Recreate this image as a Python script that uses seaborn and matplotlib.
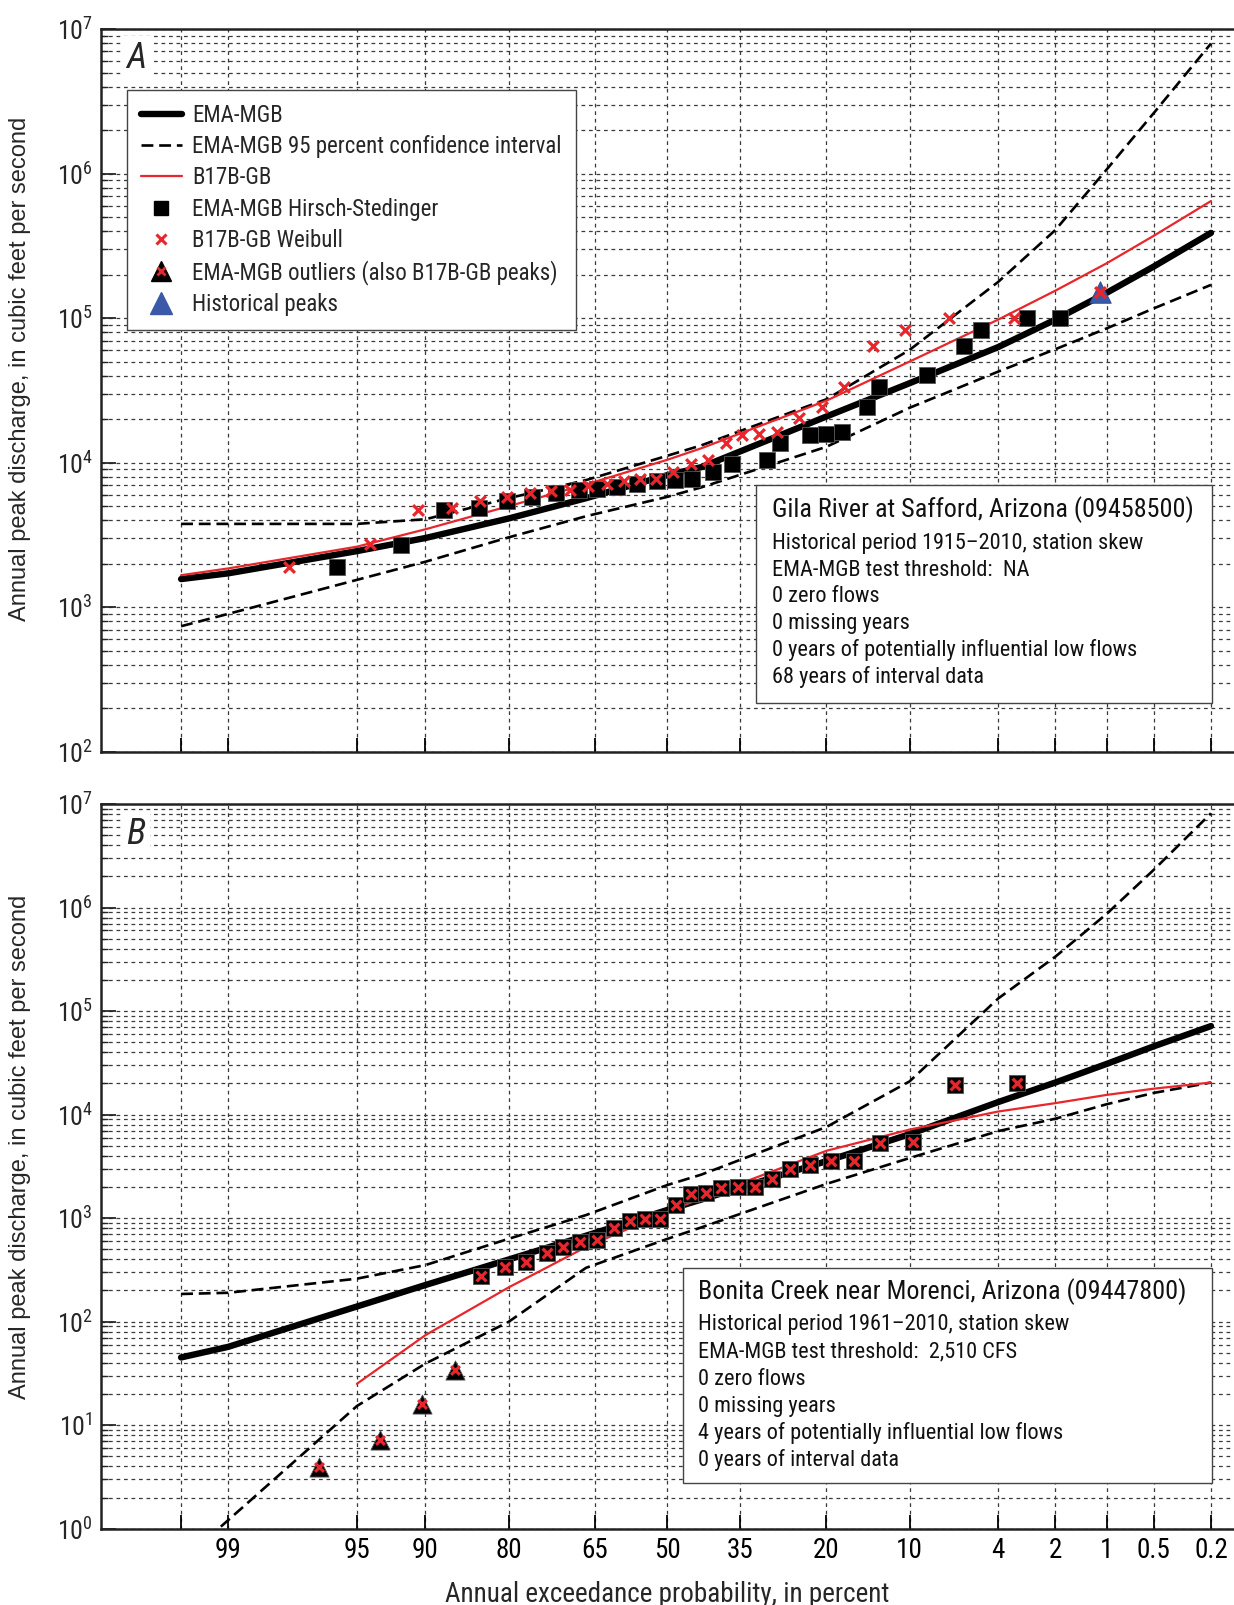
import numpy as np
import matplotlib
matplotlib.use("Agg")
import matplotlib.pyplot as plt
import seaborn as sns
from matplotlib import font_manager as fm
from matplotlib.lines import Line2D
from matplotlib.patches import Rectangle
from matplotlib.ticker import FixedLocator, FixedFormatter, LogLocator, NullFormatter, NullLocator
from matplotlib.legend_handler import HandlerTuple
from statistics import NormalDist

# ---------------- data ----------------
curve_prob = [99.5, 99, 95, 90, 80, 66.7, 50, 42.9, 20, 10, 4, 2, 1, 0.5, 0.2]

# Panel A: Gila River at Safford
a_ema = [1570, 1720, 2450, 3020, 4120, 5690, 8220, 9330, 20900, 35500, 63100, 97700, 150000, 228000, 389000]
a_b17 = [1670, 1860, 2630, 3470, 5010, 7080, 10500, 12600, 26900, 50100, 97700, 155000, 240000, 372000, 646000]
a_upper = [3780, 3780, 3780, 4070, 5690, 7590, 11200, 13200, 27500, 60300, 178000, 407000, 1070000, 2630000, 7940000]
a_lower = [741, 902, 1550, 2070, 3050, 4270, 5820, 6760, 12900, 24000, 42700, 61000, 85100, 117000, 170000]

a_hs_prob = [96.0, 92.1, 88.2, 84.1, 80.2, 76.3, 72.3, 68.1, 64.5, 60.5, 56.4, 52.3, 48.4, 44.8,
             40.4, 36.6, 30.0, 27.6, 22.45, 20.1, 17.75, 14.5, 13.16, 8.46, 5.8, 4.83, 2.85, 1.89]
a_hs_q = [1900, 2700, 4710, 4890, 5440, 5830, 6150, 6490, 6560, 6840, 7130, 7480, 7600, 7770,
          8600, 9770, 10500, 13800, 15600, 15800, 16300, 24400, 33300, 40500, 64600, 83000, 100000, 100000]

a_wb_prob = [97.76, 94.22, 90.7, 87.3, 83.9, 80.2, 76.6, 73.2, 69.7, 66.3, 62.5, 59.1, 55.7, 52.5, 48.8,
             45.0, 41.6, 37.9, 34.6, 31.45, 28.07, 24.35, 20.64, 17.54, 13.8, 10.39, 6.82, 3.34, 1.1]
a_wb_q = [1890, 2730, 4710, 4890, 5440, 5830, 6150, 6410, 6490, 6920, 7130, 7480, 7690, 7770, 8600,
          9770, 10500, 13800, 15600, 15800, 16300, 20500, 24400, 33300, 64600, 83000, 100000, 100000, 152000]

a_hist_prob = [1.1]
a_hist_q = [152000]

# Panel B: Bonita Creek near Morenci
b_ema = [45.1, 57.1, 140, 226, 398, 676, 1200, 1510, 3550, 6460, 13200, 20400, 30900, 45700, 71600]
b_b17_prob = [95, 90, 80, 66.7, 50, 42.9, 20, 10, 4, 2, 1, 0.5, 0.2]
b_b17 = [25.1, 74.1, 214, 525, 1150, 1550, 4470, 7160, 10700, 12900, 15500, 17800, 20400]
b_upper = [185, 190, 260, 352, 631, 1070, 2090, 2630, 7590, 20900, 132000, 335000, 871000, 2320000, 8130000]
b_lower = [0.48, 1.21, 15.3, 39.4, 99.5, 331, 631, 813, 2140, 3800, 6920, 9120, 12600, 16200, 20400]

b_pk_prob = [83.77, 80.56, 77.37, 73.9, 71.05, 67.76, 64.5, 61.1, 57.85, 54.8, 51.5, 48.2, 45.0,
             41.96, 38.8, 35.4, 32.14, 29.0, 25.9, 22.57, 19.37, 16.18, 12.97, 9.7, 6.4, 3.2]
b_pk_q = [275, 339, 373, 456, 528, 582, 613, 794, 942, 985, 977, 1345, 1707,
          1757, 1937, 2006, 1982, 2384, 2953, 3250, 3580, 3580, 5270, 5380, 19300, 20000]

b_out_prob = [96.75, 93.59, 90.3, 87.03]
b_out_q = [3.95, 7.2, 16, 34]

xtick_vals = [99.5, 99, 95, 90, 80, 65, 50, 35, 20, 10, 4, 2, 1, 0.5, 0.2]
xtick_labels = ["", "99", "95", "90", "80", "65", "50", "35", "20", "10", "4", "2", "1", "0.5", "0.2"]

legend_labels = ["EMA-MGB", "EMA-MGB 95 percent confidence interval", "B17B-GB",
                 "EMA-MGB Hirsch-Stedinger", "B17B-GB Weibull",
                 "EMA-MGB outliers (also B17B-GB peaks)", "Historical peaks"]

box_a = ["Gila River at Safford, Arizona (09458500)",
         "Historical period 1915\u20132010, station skew",
         "EMA-MGB test threshold:  NA",
         "0 zero flows",
         "0 missing years",
         "0 years of potentially influential low flows",
         "68 years of interval data"]
box_b = ["Bonita Creek near Morenci, Arizona (09447800)",
         "Historical period 1961\u20132010, station skew",
         "EMA-MGB test threshold:  2,510 CFS",
         "0 zero flows",
         "0 missing years",
         "4 years of potentially influential low flows",
         "0 years of interval data"]

# ---------------- style ----------------
sns.set_theme(style="white")
fonts = fm.fontManager.ttflist
names = {f.name for f in fonts}
cond_family, cond_stretch = None, "normal"
for p in ["Liberation Sans Narrow", "Roboto Condensed", "Noto Sans Condensed",
          "Open Sans Condensed", "DejaVu Sans Condensed"]:
    if p in names:
        cond_family, cond_stretch = p, "condensed"
        break
if cond_family is None:
    for fam in ["Noto Sans", "Open Sans", "Roboto", "DejaVu Sans"]:
        if any(f.name == fam and str(f.stretch) in ("condensed", "semi-condensed", "extra-condensed")
               for f in fonts):
            cond_family, cond_stretch = fam, "condensed"
            break
if cond_family is None:
    cond_family = "Roboto"

plt.rcParams["font.family"] = [cond_family, "DejaVu Sans"]
plt.rcParams["font.stretch"] = cond_stretch
plt.rcParams["mathtext.default"] = "regular"
plt.rcParams["axes.unicode_minus"] = False

RED = "#e8262b"
BLUE = "#3b59a8"
GRIDC = "#3a3a3a"
DASH = (0, (4.5, 2.2))

_nd = NormalDist()
_ppf = np.vectorize(_nd.inv_cdf, otypes=[float])
_cdf = np.vectorize(_nd.cdf, otypes=[float])


def fwd(p):
    p = np.clip(np.asarray(p, dtype=float), 1e-7, 100 - 1e-7)
    return _ppf(p / 100.0)


def inv(z):
    return _cdf(np.asarray(z, dtype=float)) * 100.0


W, H = 1234, 1605
fig = plt.figure(figsize=(W / 100, H / 100), dpi=100)
axA = fig.add_axes([101 / W, 1 - 752 / H, 1133 / W, 723 / H])
axB = fig.add_axes([101 / W, 1 - 1528.7 / H, 1133 / W, 724.7 / H])


def setup(ax, ylo, show_xlabels):
    ax.set_xscale("function", functions=(fwd, inv))
    ax.set_yscale("log")
    ax.set_xlim(99.865, 0.135)
    ax.set_ylim(ylo, 1e7)
    ax.xaxis.set_major_locator(FixedLocator(xtick_vals))
    ax.xaxis.set_minor_locator(NullLocator())
    if show_xlabels:
        ax.xaxis.set_major_formatter(FixedFormatter(xtick_labels))
    else:
        ax.xaxis.set_major_formatter(FixedFormatter([""] * len(xtick_vals)))
    dec = list(range(int(np.log10(ylo)), 8))
    ax.yaxis.set_major_locator(FixedLocator([10.0 ** d for d in dec]))
    ax.yaxis.set_major_formatter(FixedFormatter([r"$\mathregular{10^{%d}}$" % d for d in dec]))
    ax.yaxis.set_minor_locator(LogLocator(base=10, subs=np.arange(2, 10), numticks=20))
    ax.yaxis.set_minor_formatter(NullFormatter())
    ax.tick_params(axis="x", which="major", direction="in", length=10, width=1.3,
                   bottom=True, top=False, labelsize=19.5, pad=6, colors="black")
    ax.tick_params(axis="y", which="major", direction="in", length=11, width=1.3,
                   left=True, right=False, labelsize=18.5, pad=6)
    ax.tick_params(axis="y", which="minor", direction="in", length=5, width=1.0,
                   left=True, right=False)
    ax.grid(True, which="major", axis="x", color=GRIDC, lw=0.9, ls=(0, (3, 3)))
    ax.grid(True, which="both", axis="y", color=GRIDC, lw=0.9, ls=(0, (3, 3)))
    ax.set_axisbelow(True)
    for s in ["left", "bottom", "top"]:
        ax.spines[s].set_visible(True)
        ax.spines[s].set_color("#222222")
        ax.spines[s].set_linewidth(1.8)
    ax.spines["right"].set_visible(False)
    ax.set_facecolor("white")


setup(axA, 1e2, False)
setup(axB, 1e0, True)


def curves(ax, ema, b17_p, b17, up, lo):
    sns.lineplot(x=curve_prob, y=up, ax=ax, color="black", lw=1.9, linestyle=DASH,
                 sort=False, estimator=None, legend=False, zorder=3)
    sns.lineplot(x=curve_prob, y=lo, ax=ax, color="black", lw=1.9, linestyle=DASH,
                 sort=False, estimator=None, legend=False, zorder=3)
    sns.lineplot(x=curve_prob, y=ema, ax=ax, color="black", lw=4.6,
                 sort=False, estimator=None, legend=False, zorder=3)
    sns.lineplot(x=b17_p, y=b17, ax=ax, color=RED, lw=1.6,
                 sort=False, estimator=None, legend=False, zorder=3)


curves(axA, a_ema, curve_prob, a_b17, a_upper, a_lower)
curves(axB, b_ema, b_b17_prob, b_b17, b_upper, b_lower)

# Panel A points
sns.scatterplot(x=a_hs_prob, y=a_hs_q, ax=axA, marker="s", s=125, color="black",
                edgecolor="#555555", linewidth=0.6, zorder=4, legend=False)
sns.scatterplot(x=a_hist_prob, y=a_hist_q, ax=axA, marker="^", s=240, color=BLUE,
                edgecolor="#2c4585", linewidth=0.6, zorder=5, legend=False)
sns.scatterplot(x=a_wb_prob, y=a_wb_q, ax=axA, marker="x", s=60, color=RED,
                linewidth=2.3, zorder=6, legend=False)

# Panel B points
sns.scatterplot(x=b_pk_prob, y=b_pk_q, ax=axB, marker="s", s=125, color="black",
                edgecolor="#555555", linewidth=0.6, zorder=4, legend=False)
sns.scatterplot(x=b_pk_prob, y=b_pk_q, ax=axB, marker="x", s=50, color=RED,
                linewidth=2.3, zorder=6, legend=False)
sns.scatterplot(x=b_out_prob, y=b_out_q, ax=axB, marker="^", s=190, color="black",
                edgecolor="#555555", linewidth=0.6, zorder=4, legend=False)
sns.scatterplot(x=b_out_prob, y=b_out_q, ax=axB, marker="x", s=40, color=RED,
                linewidth=2.2, zorder=6, legend=False)

for ax in (axA, axB):
    ax.set_xlim(99.865, 0.135)
axA.set_ylim(1e2, 1e7)
axB.set_ylim(1e0, 1e7)

# Legend
handles = [
    Line2D([], [], color="black", lw=4.6),
    Line2D([], [], color="black", lw=1.9, ls=DASH),
    Line2D([], [], color=RED, lw=1.6),
    Line2D([], [], color="black", marker="s", ls="none", ms=10.5),
    Line2D([], [], color=RED, marker="x", ls="none", ms=7, mew=2.2),
    (Line2D([], [], color="black", marker="^", ls="none", ms=14),
     Line2D([], [], color=RED, marker="x", ls="none", ms=6, mew=2.0)),
    Line2D([], [], color=BLUE, marker="^", ls="none", ms=16),
]
leg = axA.legend(handles, legend_labels, loc="upper left", bbox_to_anchor=(0.023, 0.9156),
                 borderaxespad=0, frameon=True, fancybox=False, framealpha=1,
                 edgecolor="#444444", fontsize=16.5, handlelength=1.8, handletextpad=0.45,
                 labelspacing=0.36, borderpad=0.6,
                 handler_map={tuple: HandlerTuple(ndivide=1)})
leg.get_frame().set_linewidth(1.0)
leg.set_zorder(10)


def info_box(ax, rect, text_x, ys, lines):
    x0, y0, x1, y1 = rect
    ax.add_patch(Rectangle((x0, y0), x1 - x0, y1 - y0, transform=ax.transAxes,
                           facecolor="white", edgecolor="#444444", lw=1.0, zorder=8))
    for i, (yy, t) in enumerate(zip(ys, lines)):
        ax.text(text_x, yy, t, transform=ax.transAxes, fontsize=18.8 if i == 0 else 16,
                va="center", ha="left", zorder=9, color="#111111")


info_box(axA, (0.578, 0.0674, 0.981, 0.3693), 0.592,
         [0.3347, 0.2886, 0.2517, 0.2148, 0.1780, 0.1411, 0.1042], box_a)
info_box(axB, (0.5137, 0.0631, 0.981, 0.3597), 0.5272,
         [0.327, 0.2811, 0.2442, 0.2052, 0.1684, 0.132, 0.0948], box_b)

# Panel letters
for ax, letter, yy in ((axA, "A", 0.96), (axB, "B", 0.9586)):
    ax.text(0.031, yy, letter, transform=ax.transAxes, fontsize=26, style="italic",
            va="center", ha="center", zorder=9,
            bbox=dict(facecolor="white", edgecolor="none", pad=3))

# Axis labels
for ax, ly in ((axA, 0.53), (axB, 0.527)):
    ax.set_ylabel("Annual peak discharge, in cubic feet per second",
                  fontsize=17, family=["Liberation Sans", "DejaVu Sans"], fontstretch="normal")
    ax.yaxis.set_label_coords(-0.062, ly)
axB.set_xlabel("Annual exceedance probability, in percent", fontsize=19.5, labelpad=12)

fig.savefig("out.png", dpi=100, facecolor="white")
